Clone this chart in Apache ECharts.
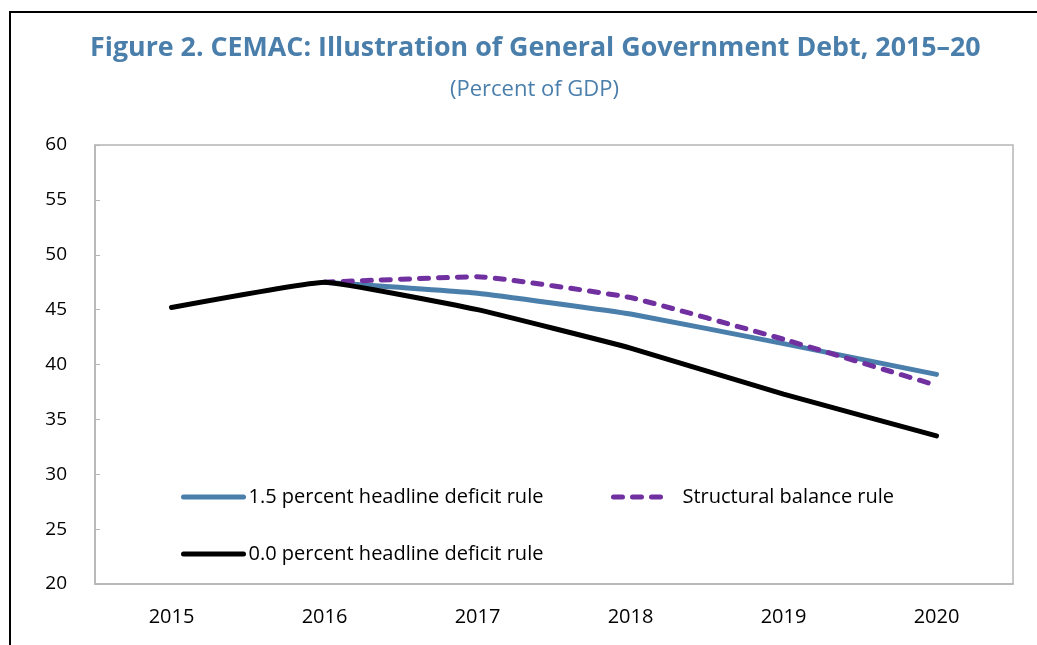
<!DOCTYPE html>
<html>
<head>
<meta charset="utf-8">
<script src="https://cdn.jsdelivr.net/npm/echarts@6/dist/echarts.min.js"></script>
<style>
  html, body { margin: 0; padding: 0; background: #ffffff; }
  #chart { width: 1037px; height: 645px; }
</style>
</head>
<body>
<div id="chart"></div>
<script>
// categories
const years = ['2015', '2016', '2017', '2018', '2019', '2020']
// series values (percent of GDP); blue and purple are hidden under black in 2015
const headline15 = [null, 47.5, 46.5, 44.6, 41.9, 39.1]
const structural = [null, 47.5, 48.0, 46.1, 42.3, 38.1]
const headline00 = [45.2, 47.5, 45.0, 41.5, 37.3, 33.5]

const blue = '#4A7EAB'
const purple = '#7030A0'
const font = 'Open Sans'

const myChart = echarts.init(document.getElementById('chart'))

const legendText = { fontSize: 20, color: '#000', fontFamily: font }

const option = {
  backgroundColor: '#ffffff',
  textStyle: { fontFamily: font },
  title: [
    {
      text: 'Figure 2. CEMAC: Illustration of General Government Debt, 2015–20',
      left: 85,
      top: 30,
      textStyle: { color: blue, fontSize: 26.8, fontWeight: 'bold', fontFamily: font }
    },
    {
      text: '(Percent of GDP)',
      left: 445,
      top: 74,
      textStyle: { color: blue, fontSize: 22, fontWeight: 'normal', fontFamily: font }
    }
  ],
  graphic: [
    {
      type: 'rect',
      shape: { x: 10, y: 12, width: 1100, height: 700 },
      style: { fill: 'none', stroke: '#000000', lineWidth: 2 },
      silent: true
    }
  ],
  legend: [
    {
      data: ['1.5 percent headline deficit rule'],
      left: 176,
      top: 482,
      itemWidth: 60,
      itemHeight: 22,
      itemStyle: { opacity: 0 },
      lineStyle: { width: 5 },
      textStyle: legendText
    },
    {
      data: ['Structural balance rule'],
      left: 606,
      top: 482,
      itemWidth: 56,
      itemHeight: 22,
      itemStyle: { opacity: 0 },
      lineStyle: { width: 5 },
      textStyle: Object.assign({ padding: [0, 0, 0, 8] }, legendText)
    },
    {
      data: ['0.0 percent headline deficit rule'],
      left: 176,
      top: 539,
      itemWidth: 60,
      itemHeight: 22,
      itemStyle: { opacity: 0 },
      lineStyle: { width: 5 },
      textStyle: legendText
    }
  ],
  grid: {
    left: 95,
    right: 24,
    top: 145,
    bottom: 61,
    show: true,
    borderColor: '#b5b5b5',
    borderWidth: 1.5
  },
  xAxis: {
    type: 'category',
    data: years,
    boundaryGap: true,
    axisLine: { lineStyle: { color: '#b5b5b5', width: 1.5 } },
    axisTick: { inside: true, length: 5, lineStyle: { color: '#b5b5b5' } },
    axisLabel: { color: '#000', fontSize: 20, margin: 23, fontFamily: font },
    splitLine: { show: false }
  },
  yAxis: {
    type: 'value',
    min: 20,
    max: 60,
    interval: 5,
    axisLine: { show: true, lineStyle: { color: '#b5b5b5', width: 1.5 } },
    axisTick: { show: true, inside: true, length: 5, lineStyle: { color: '#b5b5b5' } },
    axisLabel: { color: '#000', fontSize: 19, margin: 28, fontFamily: font },
    splitLine: { show: false }
  },
  series: [
    {
      name: '1.5 percent headline deficit rule',
      type: 'line',
      data: headline15,
      smooth: 0.1,
      symbol: 'none',
      itemStyle: { color: blue },
      lineStyle: { color: blue, width: 5, cap: 'round' }
    },
    {
      name: 'Structural balance rule',
      type: 'line',
      data: structural,
      smooth: 0.1,
      symbol: 'none',
      itemStyle: { color: purple },
      lineStyle: { color: purple, width: 5, type: [9, 10], cap: 'round' }
    },
    {
      name: '0.0 percent headline deficit rule',
      type: 'line',
      data: headline00,
      smooth: 0.1,
      symbol: 'none',
      itemStyle: { color: '#000' },
      lineStyle: { color: '#000', width: 5, cap: 'round' }
    }
  ],
  animation: false
}

myChart.setOption(option, true)
addEventListener('resize', () => {
  myChart.resize()
})
</script>
</body>
</html>
